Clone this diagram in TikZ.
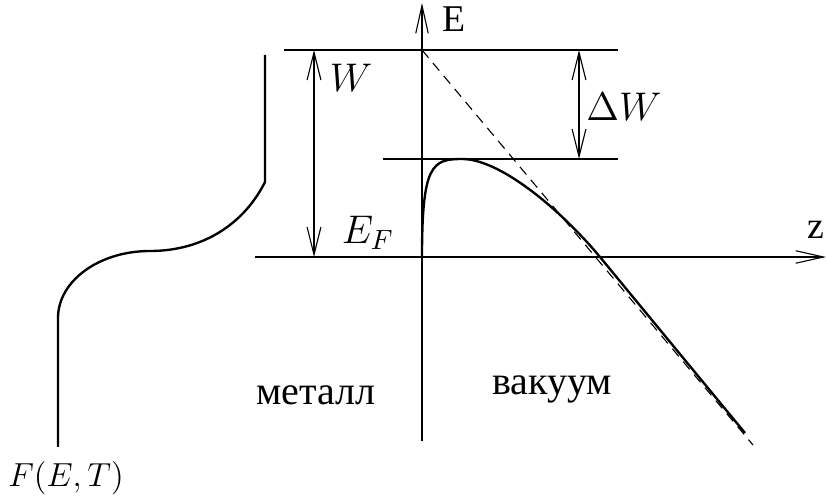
\documentclass[tikz,border=0pt]{standalone}
\usepackage{fontspec}
\newfontfamily\cyr{Liberation Serif}
\usetikzlibrary{arrows.meta}
\begin{document}
\begin{tikzpicture}[x=0.36pt,y=-0.36pt,
  thinln/.style={line width=0.4pt},
  thickln/.style={line width=0.85pt},
  barb/.style={thinln,arrows={Straight Barb[length=10pt,width=5pt]-Straight Barb[length=10pt,width=5pt]}},
  axisarrow/.style={thinln,-{Straight Barb[length=10pt,width=4.5pt]}},
  lbl/.style={inner sep=0pt},
  axlbl/.style={inner sep=0pt,font=\cyr\fontsize{13.6}{15}\selectfont}]
\useasboundingbox (0,0) rectangle (827,504);
% coordinates
\coordinate (Ebot) at (422,441);
\coordinate (Etop) at (422,3);
\coordinate (O) at (422,257);
\coordinate (Zend) at (826,257);
\coordinate (Fl) at (255,257);
\coordinate (Vl) at (284,50);
\coordinate (V0) at (422,50);
\coordinate (Vr) at (618,50);
\coordinate (Bl) at (383,159);
\coordinate (Br) at (618,159);
\coordinate (Wt) at (314,50);
\coordinate (Wb) at (314,257);
\coordinate (dWt) at (579,50);
\coordinate (dWb) at (579,159);
\coordinate (Dend) at (753,445);
\coordinate (Bmax) at (462,159);
\coordinate (Bx) at (600,257);
\coordinate (Bend) at (745,433);
\coordinate (F1) at (265,55);
\coordinate (F2) at (265,182);
\coordinate (F3) at (150,251);
\coordinate (F4) at (58,318);
\coordinate (F5) at (58,447);
% axes
\draw[axisarrow] (Ebot) -- (Etop);
\draw[axisarrow] (O) -- (Zend);
% levels
\draw[thinln] (Vl) -- (V0);
\draw[thickln] (V0) -- (Vr);
\draw[thinln] (Bl) -- (Br);
\draw[thickln] (Fl) -- (O);
% dimension arrows
\draw[barb] (Wt) -- (Wb);
\draw[barb] (dWt) -- (dWb);
% dashed potential line
\draw[thinln,dash pattern=on 3.6pt off 2.5pt] (V0) -- (Dend);
% barrier
\draw[thickln,line join=round] (O) .. controls (422,165) and (432,159) .. (Bmax)
  .. controls (500,159) and (560,209) .. (Bx) -- (Bend);
% Fermi distribution
\draw[thickln,line join=round] (F1) -- (F2) .. controls (245,222) and (205,251) .. (F3)
  .. controls (99,251) and (58,281) .. (F4) -- (F5);
% labels
\node[axlbl] (lE) at (454,19.5) {E};
\node[axlbl,anchor=east] (lz) at (825,229.5) {z};
\node[lbl] (lW) at (351,78) {\Large $W$};
\node[lbl] (ldW) at (624,107) {\Large $\Delta W$};
\node[lbl] (lEF) at (368,233) {\Large $E_F$};
\node[lbl] (lF) at (66,478) {\large $F(E,T)$};
\node[lbl,anchor=base] (lm) at (316,405) {\cyr\fontsize{14.4}{16}\selectfont металл};
\node[lbl,anchor=base] (lv) at (552,395) {\cyr\fontsize{14.4}{16}\selectfont вакуум};
\end{tikzpicture}
\end{document}
